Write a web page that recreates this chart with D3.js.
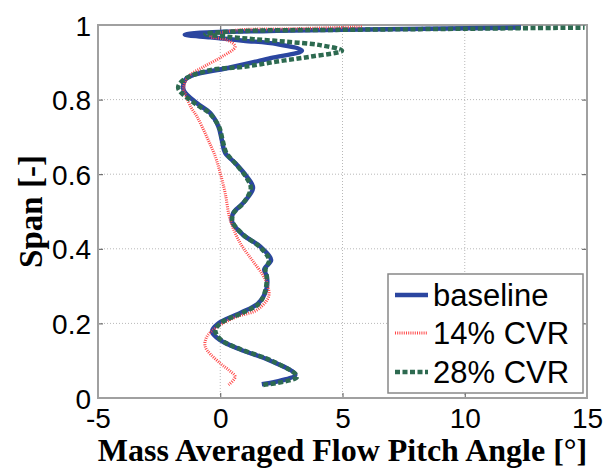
<!DOCTYPE html>
<html>
<head>
<meta charset="utf-8">
<script src="https://cdn.jsdelivr.net/npm/d3@7/dist/d3.min.js"></script>
<style>
  html, body { margin: 0; padding: 0; background: #fff; }
  svg { display: block; }
</style>
</head>
<body>
<script>
// Spanwise profiles of mass-averaged flow pitch angle (degrees) vs. span
const baselineAngle = [1.7, 3.07, 2.05, 0.82, 0.0, -0.34, -0.08, 0.82, 1.55, 1.88, 1.91, 1.8, 2.08, 1.64, 0.94, 0.48, 0.53, 0.94, 1.34, 1.09, 0.61, 0.2, 0.07, -0.07, -0.41, -0.95, -1.5, -1.43, -1.09, 0.27, 2.05, 3.34, 2.32, 0.95, -0.41, -1.45, -0.82, 2.0, 5.0, 8.5, 12.3];
const baselineSpan  = [0.037, 0.062, 0.10, 0.13, 0.155, 0.178, 0.20, 0.228, 0.254, 0.29, 0.325, 0.345, 0.37, 0.406, 0.437, 0.473, 0.496, 0.523, 0.563, 0.593, 0.63, 0.657, 0.69, 0.727, 0.764, 0.79, 0.826, 0.853, 0.866, 0.884, 0.911, 0.931, 0.949, 0.958, 0.967, 0.974, 0.979, 0.984, 0.987, 0.990, 0.993];

const cvr14Angle = [0.34, 0.61, 0.35, 0.0, -0.61, -0.55, -0.14, 0.68, 1.5, 1.98, 1.91, 1.7, 1.3, 0.82, 0.41, 0.2, 0.0, -0.2, -0.55, -0.95, -1.2, -1.4, -1.5, -1.3, -0.68, 0.07, 0.61, 0.27, -0.41, 0.5, 3.0, 5.8];
const cvr14Span  = [0.035, 0.057, 0.075, 0.093, 0.137, 0.164, 0.19, 0.218, 0.236, 0.272, 0.307, 0.334, 0.37, 0.415, 0.477, 0.55, 0.603, 0.647, 0.70, 0.754, 0.78, 0.81, 0.83, 0.862, 0.888, 0.915, 0.942, 0.96, 0.969, 0.985, 0.990, 0.995];

const cvr28Angle = [1.76, 3.14, 2.1, 0.85, 0.05, -0.2, 0.0, 0.9, 1.6, 1.85, 1.9, 1.85, 2.0, 1.6, 0.95, 0.5, 0.55, 0.95, 1.25, 1.05, 0.6, 0.25, 0.1, -0.05, -0.45, -1.05, -1.72, -1.5, -0.41, 0.95, 2.32, 3.68, 4.98, 4.09, 2.73, 1.36, 0.27, -0.61, 1.0, 5.0, 10.0, 14.9];
const cvr28Span  = [0.035, 0.057, 0.10, 0.13, 0.155, 0.18, 0.20, 0.228, 0.254, 0.29, 0.325, 0.345, 0.37, 0.406, 0.437, 0.473, 0.496, 0.523, 0.563, 0.593, 0.63, 0.657, 0.69, 0.727, 0.764, 0.79, 0.831, 0.853, 0.879, 0.888, 0.902, 0.915, 0.931, 0.946, 0.955, 0.962, 0.969, 0.976, 0.984, 0.987, 0.990, 0.993];

const seriesNames = ["baseline", "14% CVR", "28% CVR"];
const xTicks = [-5, 0, 5, 10, 15];
const yTicks = [0, 0.2, 0.4, 0.6, 0.8, 1];
const xLabel = "Mass Averaged Flow Pitch Angle [°]";
const yLabel = "Span [-]";

const W = 613, H = 468;
const plot = { left: 98, right: 587, top: 25, bottom: 398 };

const svg = d3.select("body").append("svg").attr("width", W).attr("height", H);

const x = d3.scaleLinear().domain([-5, 15]).range([plot.left, plot.right]);
const y = d3.scaleLinear().domain([0, 1]).range([plot.bottom, plot.top]);

// plain hyphen for negatives, no trailing zeros
const tickFmt = d => String(+d.toFixed(2));

// Dotted grid
const grid = svg.append("g").attr("stroke", "#b8b8b8").attr("stroke-width", 1).attr("stroke-dasharray", "1,2");
grid.selectAll("line.gx").data(xTicks.slice(1, -1)).join("line")
  .attr("x1", d => x(d)).attr("x2", d => x(d)).attr("y1", plot.top).attr("y2", plot.bottom);
grid.selectAll("line.gy").data(yTicks.slice(1, -1)).join("line")
  .attr("y1", d => y(d)).attr("y2", d => y(d)).attr("x1", plot.left).attr("x2", plot.right);

// Axes: ticks point inward, labels outside
const axisFont = "'Liberation Sans', Arial, sans-serif";
const gx = svg.append("g").attr("transform", `translate(0,${plot.bottom})`)
  .call(d3.axisBottom(x).tickValues(xTicks).tickFormat(tickFmt).tickSizeInner(-5).tickSizeOuter(0).tickPadding(10));
const gy = svg.append("g").attr("transform", `translate(${plot.left},0)`)
  .call(d3.axisLeft(y).tickValues(yTicks).tickFormat(tickFmt).tickSizeInner(-5).tickSizeOuter(0).tickPadding(7));
const gxTop = svg.append("g").attr("transform", `translate(0,${plot.top})`)
  .call(d3.axisTop(x).tickValues(xTicks).tickFormat("").tickSizeInner(-5).tickSizeOuter(0));
const gyRight = svg.append("g").attr("transform", `translate(${plot.right},0)`)
  .call(d3.axisRight(y).tickValues(yTicks).tickFormat("").tickSizeInner(-5).tickSizeOuter(0));

[gx, gy, gxTop, gyRight].forEach(g => {
  g.select(".domain").remove();
  g.selectAll(".tick line").attr("stroke", "#555").attr("stroke-width", 1);
  g.selectAll("text").attr("font-family", axisFont).attr("font-size", 28).attr("fill", "#000");
});
gx.selectAll("text").attr("dy", "0.71em");
gy.selectAll("text").attr("dy", "0.36em");

// Frame
svg.append("rect")
  .attr("x", plot.left).attr("y", plot.top)
  .attr("width", plot.right - plot.left).attr("height", plot.bottom - plot.top)
  .attr("fill", "none").attr("stroke", "#a0a0a0").attr("stroke-width", 2);

// Series
const styles = [
  { color: "#2b46a0", width: 4.5, dash: null },
  { color: "#ff4848", width: 3, dash: "1,1.2" },
  { color: "#2d6a50", width: 4.5, dash: "5,2.5" }
];
const data = [
  d3.zip(baselineAngle, baselineSpan),
  d3.zip(cvr14Angle, cvr14Span),
  d3.zip(cvr28Angle, cvr28Span)
];

const line = d3.line().x(d => x(d[0])).y(d => y(d[1])).curve(d3.curveCatmullRom.alpha(0.5));

svg.append("g").selectAll("path").data(data).join("path")
  .attr("d", line)
  .attr("fill", "none")
  .attr("stroke", (d, i) => styles[i].color)
  .attr("stroke-width", (d, i) => styles[i].width)
  .attr("stroke-dasharray", (d, i) => styles[i].dash)
  .attr("stroke-linejoin", "round");

// Legend
const lg = svg.append("g");
lg.append("rect").attr("x", 388).attr("y", 274).attr("width", 195).attr("height", 119)
  .attr("fill", "#fff").attr("stroke", "#888").attr("stroke-width", 1.5);
const rowY = [295, 333, 372];
seriesNames.forEach((name, i) => {
  lg.append("line").attr("x1", 395).attr("x2", 428).attr("y1", rowY[i]).attr("y2", rowY[i])
    .attr("stroke", styles[i].color).attr("stroke-width", styles[i].width)
    .attr("stroke-dasharray", styles[i].dash);
  lg.append("text").attr("x", 433).attr("y", rowY[i]).attr("dy", "0.36em")
    .attr("font-family", axisFont).attr("font-size", 31).attr("fill", "#000").text(name);
});

// Axis titles
const titleFont = "'Liberation Serif', 'Times New Roman', serif";
svg.append("text").attr("x", (plot.left + plot.right) / 2).attr("y", 461)
  .attr("text-anchor", "middle").attr("font-family", titleFont).attr("font-weight", "bold")
  .attr("font-size", 32).attr("fill", "#000").text(xLabel);
svg.append("text").attr("transform", `translate(42,${(plot.top + plot.bottom) / 2}) rotate(-90)`)
  .attr("text-anchor", "middle").attr("font-family", titleFont).attr("font-weight", "bold")
  .attr("font-size", 33).attr("fill", "#000").text(yLabel);
</script>
</body>
</html>
